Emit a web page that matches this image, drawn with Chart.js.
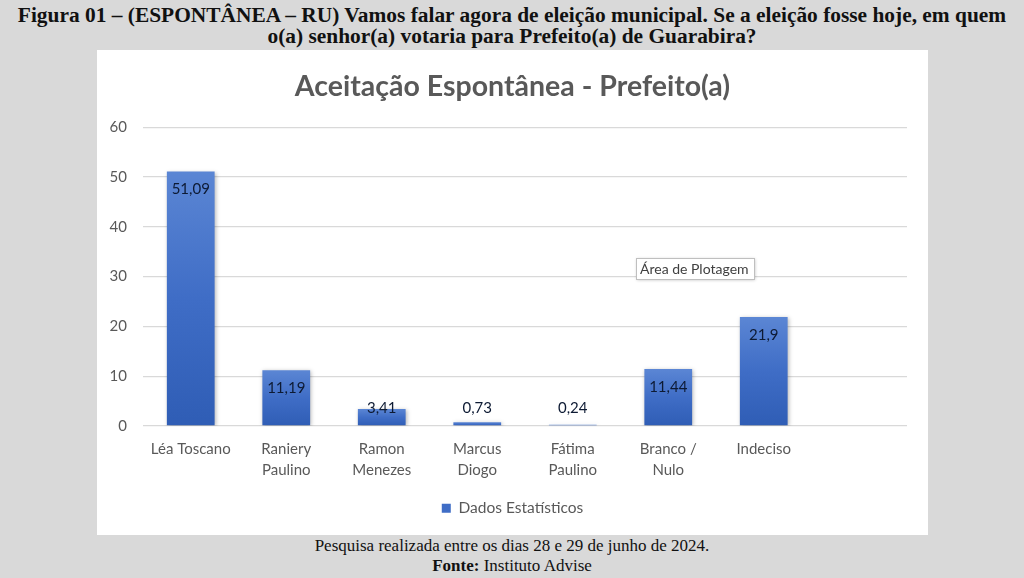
<!DOCTYPE html>
<html lang="pt-BR">
<head>
<meta charset="utf-8">
<title>Aceitação Espontânea - Prefeito(a)</title>
<script src="https://cdn.jsdelivr.net/npm/chart.js@4.4.1/dist/chart.umd.min.js"></script>
<style>
  html, body { margin: 0; padding: 0; }
  body {
    width: 1024px; height: 578px; overflow: hidden;
    background: #d9d9d9; position: relative;
    font-family: "Liberation Serif", "DejaVu Serif", serif;
  }
  #heading {
    position: absolute; left: 0; top: 5px; width: 1024px;
    text-align: center; font-weight: bold; font-size: 21.4px; line-height: 21px;
    color: #111;
  }
  #panel {
    position: absolute; left: 97px; top: 50px; width: 831px; height: 485px;
    background: #fff;
  }
  #footer {
    position: absolute; left: 0; top: 536px; width: 1024px;
    text-align: center; font-size: 17px; line-height: 20px; color: #111;
  }
</style>
</head>
<body>
<div id="heading">Figura 01 – (ESPONTÂNEA – RU) Vamos falar agora de eleição municipal. Se a eleição fosse hoje, em quem<br>o(a) senhor(a) votaria para Prefeito(a) de Guarabira?</div>
<div id="panel"><canvas id="votos" width="831" height="485"></canvas></div>
<div id="footer">Pesquisa realizada entre os dias 28 e 29 de junho de 2024.<br><b>Fonte:</b> Instituto Advise</div>

<script>
// candidatos (o ultimo espaco fica vazio, como no grafico original)
const candidatos = [
    ["Léa Toscano"],
    ["Raniery", "Paulino"],
    ["Ramon", "Menezes"],
    ["Marcus", "Diogo"],
    ["Fátima", "Paulino"],
    ["Branco /", "Nulo"],
    ["Indeciso"],
    [""]
];
const percentuais = [51.09, 11.19, 3.41, 0.73, 0.24, 11.44, 21.9];
const eixoY = [0, 10, 20, 30, 40, 50, 60];

const cinza = "#595959";
const fonte = "Lato, 'Open Sans', sans-serif";

// gradiente de cada barra, do topo (claro) a base (escuro)
var corBarra = function (context) {
    var chart = context.chart;
    if (!chart.chartArea || context.type !== "data") return "#4472c4";
    var topo = chart.scales.y.getPixelForValue(context.parsed.y);
    var base = chart.scales.y.getPixelForValue(0);
    if (!isFinite(topo) || base - topo < 1) return "#3a66bf";
    var g = chart.ctx.createLinearGradient(0, topo, 0, base);
    g.addColorStop(0, "#5b86d4");
    g.addColorStop(0.5, "#3f6dc6");
    g.addColorStop(1, "#2f5db5");
    return g;
};

const rotulos = {
    id: "rotulos",
    beforeDatasetsDraw(chart) {
        const ctx = chart.ctx;
        ctx.save();
        ctx.shadowColor = "rgba(0,0,0,0.28)";
        ctx.shadowBlur = 4;
        ctx.shadowOffsetX = 1;
        ctx.shadowOffsetY = 1;
    },
    afterDatasetsDraw(chart) {
        const ctx = chart.ctx;
        ctx.restore();
        const meta = chart.getDatasetMeta(0);
        const base = chart.scales.y.getPixelForValue(0);
        ctx.save();
        ctx.font = "15px " + fonte;
        ctx.fillStyle = "#0d1a33";
        ctx.textAlign = "center";
        ctx.textBaseline = "middle";
        meta.data.forEach(function (bar, i) {
            const txt = String(percentuais[i]).replace(".", ",");
            const y = Math.min(bar.y + 18, base - 18);
            ctx.fillText(txt, bar.x, y);
        });
        ctx.restore();
    },
    afterDraw(chart) {
        // dica "Área de Plotagem" que aparece na captura original
        const ctx = chart.ctx;
        ctx.save();
        ctx.shadowColor = "rgba(0,0,0,0.25)";
        ctx.shadowBlur = 3;
        ctx.shadowOffsetX = 1;
        ctx.shadowOffsetY = 1;
        ctx.fillStyle = "#ffffff";
        ctx.fillRect(539, 208, 118, 21);
        ctx.restore();
        ctx.save();
        ctx.strokeStyle = "#bfbfbf";
        ctx.lineWidth = 1;
        ctx.strokeRect(539.5, 208.5, 118, 21);
        ctx.font = "14px " + fonte;
        ctx.fillStyle = "#404040";
        ctx.textBaseline = "middle";
        ctx.fillText("Área de Plotagem", 543, 219);
        ctx.restore();
    }
};

new Chart("votos", {
    type: "bar",
    data: {
        labels: candidatos,
        datasets: [
            {
                label: "Dados Estatísticos",
                data: percentuais,
                backgroundColor: corBarra,
                borderWidth: 0,
                categoryPercentage: 1,
                barPercentage: 0.5
            }
        ]
    },
    options: {
        responsive: false,
        animation: false,
        devicePixelRatio: 1,
        layout: { padding: { left: 0, right: 0, top: 12, bottom: 9 } },
        plugins: {
            title: {
                display: true,
                text: "Aceitação Espontânea - Prefeito(a)",
                color: cinza,
                font: { family: fonte, size: 28.5, weight: "bold" },
                padding: { top: 8, bottom: 23 }
            },
            legend: {
                position: "bottom",
                labels: {
                    color: cinza,
                    font: { family: fonte, size: 15.5 },
                    boxWidth: 9,
                    boxHeight: 9,
                    padding: 10,
                    generateLabels: function () {
                        return [{ text: "Dados Estatísticos", fillStyle: "#3f6dc6", strokeStyle: "#3f6dc6", lineWidth: 0, fontColor: cinza }];
                    }
                }
            },
            tooltip: { enabled: false }
        },
        scales: {
            x: {
                afterFit: function (scale) { scale.height += 5; },
                grid: { display: false },
                border: { display: false },
                ticks: {
                    color: cinza,
                    font: { family: fonte, size: 15, lineHeight: 1.45 },
                    padding: 4,
                    maxRotation: 0,
                    autoSkip: false
                }
            },
            y: {
                min: 0,
                max: 60,
                afterFit: function (scale) { scale.width = 46; },
                afterBuildTicks: function (scale) {
                    scale.ticks = eixoY.map(function (v) { return { value: v }; });
                },
                grid: { color: "#d9d9d9", lineWidth: 1.3, drawTicks: false },
                border: { display: false },
                ticks: {
                    color: cinza,
                    font: { family: fonte, size: 15 },
                    padding: 16
                }
            },
            // margem vazia a direita da area de plotagem
            margem: {
                position: "right",
                afterFit: function (scale) { scale.width = 21; },
                grid: { display: false },
                border: { display: false },
                ticks: { display: false }
            }
        }
    },
    plugins: [rotulos]
});
</script>
</body>
</html>
